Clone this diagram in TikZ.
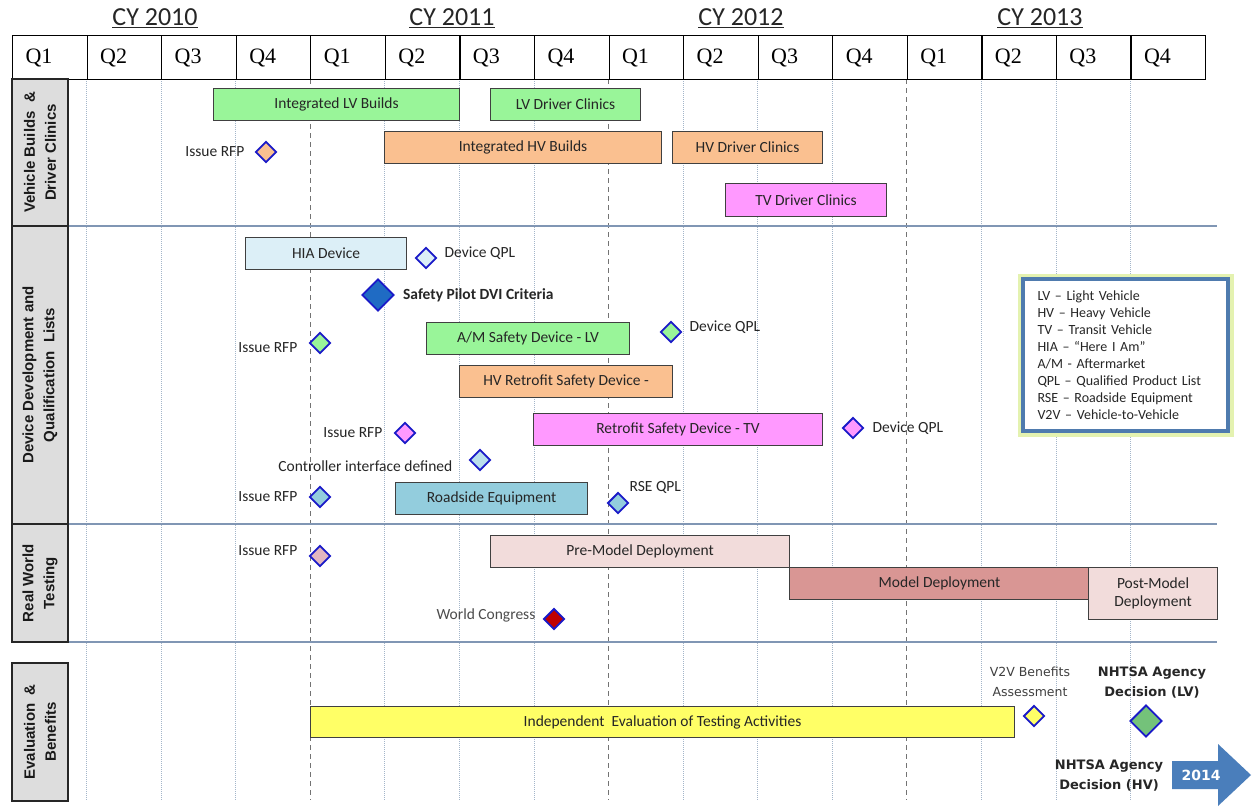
\documentclass[tikz,border=0pt]{standalone}
\usepackage{fontspec}
\setmainfont{Carlito}
\newfontfamily\qfont{Liberation Serif}
\newfontfamily\secfont{Liberation Sans}
\newfontfamily\dvfont{DejaVu Sans}
\usepackage{xcolor}
\usepackage{tikz}
\usetikzlibrary{shapes.geometric,positioning}

\definecolor{lvgreen}{HTML}{99F599}
\definecolor{hvorange}{HTML}{FAC090}
\definecolor{tvpink}{HTML}{FF99FF}
\definecolor{hialight}{HTML}{DCEFF7}
\definecolor{rseblue}{HTML}{93CDDD}
\definecolor{ctrlblue}{HTML}{B9DEEC}
\definecolor{premodel}{HTML}{F2DCDB}
\definecolor{modeldep}{HTML}{D99694}
\definecolor{evalyellow}{HTML}{FFFF66}
\definecolor{msborder}{HTML}{1A1AC8}
\definecolor{dviblue}{HTML}{1F6BC4}
\definecolor{wcred}{HTML}{C00000}
\definecolor{rfpmauve}{HTML}{E3B6C0}
\definecolor{nhtsagreen}{HTML}{74C27A}
\definecolor{gridblue}{HTML}{A3B5C9}
\definecolor{sepblue}{HTML}{8096B4}
\definecolor{secgray}{HTML}{DDDDDD}
\definecolor{legendblue}{HTML}{4F7BAE}
\definecolor{legendglow}{HTML}{E4F2B0}
\definecolor{arrowblue}{HTML}{4A7EBB}
\definecolor{bartext}{HTML}{262626}

\begin{document}
\begin{tikzpicture}[x=1pt, y=-1pt,
  every node/.style={text=bartext, font=\fontsize{15.5}{18}\selectfont},
  qcell/.style={draw=black, line width=1.2pt, anchor=north west, minimum height=44,
    text width=48.56, inner xsep=13, align=left, text=black,
    font=\qfont\fontsize{22}{24}\selectfont},
  yearlabel/.style={font=\fontsize{26}{28}\selectfont, text=black!85},
  secbox/.style={rotate=90, draw=black!85, line width=1.2pt, fill=secgray,
    minimum height=56, align=center, text=black!90,
    font=\secfont\bfseries\fontsize{15}{21}\selectfont},
  bar/.style={draw=black!75, line width=1.1pt, anchor=north west, inner sep=0pt,
    minimum height=31.5, align=center},
  ms/.style={diamond, draw=msborder, line width=1.9pt, inner sep=0pt,
    minimum width=21, minimum height=21},
  msbig/.style={ms, minimum width=32, minimum height=32},
  mslabel/.style={inner sep=0pt},
  grid/.style={gridblue, line width=0.7pt, dash pattern=on 1pt off 1pt},
  yearline/.style={black!55, line width=0.7pt, dash pattern=on 5pt off 4pt},
  sep/.style={sepblue, line width=1.2pt}]

  \useasboundingbox (0,0) rectangle (1259,809);
  \fill[white] (0,0) rectangle (1259,809);

  % Quarter grid
  \foreach \i in {1,2,3,5,6,7,9,10,11,13,14,15}
    \draw[grid] ({12+74.5625*\i},79) -- ({12+74.5625*\i},800);
  \foreach \i in {4,8,12}
    \draw[yearline] ({12+74.5625*\i},79) -- ({12+74.5625*\i},800);

  % Section separators
  \foreach \sy in {226,524,642}
    \draw[sep] (68,\sy) -- (1217,\sy);

  % Header
  \foreach \yr/\cx in {2010/155, 2011/452, 2012/741, 2013/1040}
    \node[yearlabel] (cy\yr) at (\cx,18) {\underline{CY \yr}};
  \foreach \i in {0,...,15} {
    \pgfmathtruncatemacro\q{mod(\i,4)+1}
    \node[qcell] (q\i) at ({12+74.5625*\i},35) {Q\q};
  }

  % Section labels
  \node[secbox, minimum width=147] (secveh) at (40,152.5) {Vehicle Builds \ \&\\Driver Clinics};
  \node[secbox, minimum width=298] (secdev) at (40,375) {Device Development and\\Qualification \ Lists};
  \node[secbox, minimum width=118] (secreal) at (40,583) {Real World\\Testing};
  \node[secbox, minimum width=138] (seceval) at (40,732) {Evaluation \ \&\\Benefits};

  % Vehicle builds and driver clinics
  \node[bar, fill=lvgreen, minimum width=246] (lvb) at (213,88) {Integrated LV Builds};
  \node[bar, fill=lvgreen, minimum width=150] (lvdc) at (490,88) {LV Driver Clinics};
  \node[bar, fill=hvorange, minimum width=277] (hvb) at (384,131) {Integrated HV Builds};
  \node[bar, fill=hvorange, minimum width=150] (hvdc) at (672,131) {HV Driver Clinics};
  \node[bar, fill=tvpink, minimum width=161, minimum height=33] (tvdc) at (725,183) {TV Driver Clinics};
  \node[ms, fill=hvorange] (rfpveh) at (266,152) {};
  \node[mslabel, left=10pt of rfpveh] (rfpvehlbl) {Issue RFP};

  % Device development
  \node[bar, fill=hialight, minimum width=161, minimum height=32] (hia) at (245,237) {HIA Device};
  \node[bar, fill=lvgreen, minimum width=203, minimum height=32] (amlv) at (426,322) {A/M Safety Device - LV};
  \node[bar, fill=hvorange, minimum width=213, minimum height=32] (hvrs) at (459,365) {HV Retrofit Safety Device -};
  \node[bar, fill=tvpink, minimum width=289] (tvrs) at (533,413) {Retrofit Safety Device - TV};
  \node[bar, fill=rseblue, minimum width=192, minimum height=32] (rse) at (395,482) {Roadside Equipment};

  \node[ms, fill=hialight] (qplhia) at (426,258) {};
  \node[mslabel, right=7pt of qplhia, yshift=5pt] (qplhialbl) {Device QPL};
  \node[msbig, fill=dviblue] (dvi) at (378,295) {};
  \node[mslabel, right=8pt of dvi, font=\bfseries\fontsize{15.5}{18}\selectfont] (dvilbl) {Safety Pilot DVI Criteria};
  \node[ms, fill=lvgreen] (rfplv) at (320,343) {};
  \node[mslabel, left=11pt of rfplv, yshift=-5pt] (rfplvlbl) {Issue RFP};
  \node[ms, fill=lvgreen] (qpllv) at (671,332) {};
  \node[mslabel, right=7pt of qpllv, yshift=5pt] (qpllvlbl) {Device QPL};
  \node[ms, fill=tvpink] (rfptv) at (405,433) {};
  \node[mslabel, left=11pt of rfptv] (rfptvlbl) {Issue RFP};
  \node[ms, fill=tvpink] (qpltv) at (853,428) {};
  \node[mslabel, right=8pt of qpltv] (qpltvlbl) {Device QPL};
  \node[ms, fill=ctrlblue] (ctrl) at (480,460) {};
  \node[mslabel, left=16pt of ctrl, yshift=-6pt] (ctrllbl) {Controller interface defined};
  \node[ms, fill=rseblue] (rfprse) at (320,497) {};
  \node[mslabel, left=11pt of rfprse] (rfprselbl) {Issue RFP};
  \node[ms, fill=rseblue] (qplrse) at (618,503) {};
  \node[mslabel, right=0pt of qplrse, yshift=16pt] (qplrselbl) {RSE QPL};

  % Real world testing
  \node[bar, fill=premodel, minimum width=299, minimum height=32] (premd) at (490,535) {Pre-Model Deployment};
  \node[bar, fill=modeldep, minimum width=300, minimum height=32] (md) at (789,567) {Model Deployment};
  \node[bar, fill=premodel, minimum width=129, minimum height=52] (postmd) at (1088,567) {Post-Model\\Deployment};
  \node[ms, fill=rfpmauve] (rfpmd) at (320,556) {};
  \node[mslabel, left=11pt of rfpmd, yshift=5pt] (rfpmdlbl) {Issue RFP};
  \node[ms, fill=wcred] (wc) at (554,619) {};
  \node[mslabel, left=7pt of wc, yshift=4pt, text=black!70] (wclbl) {World Congress};

  % Evaluation and benefits
  \node[bar, fill=evalyellow, minimum width=704, minimum height=31] (ieval) at (310,706) {Independent \ Evaluation of Testing Activities};
  \node[ms, fill=evalyellow] (v2v) at (1034,716) {};
  \node[mslabel, above=8pt of v2v, xshift=-4pt, align=center, text=black!75,
    font=\dvfont\fontsize{12.5}{20}\selectfont] (v2vlbl) {V2V Benefits\\Assessment};
  \node[msbig, fill=nhtsagreen] (declv) at (1146,721) {};
  \node[mslabel, above=6pt of declv, xshift=6pt, align=center,
    font=\dvfont\bfseries\fontsize{13}{20}\selectfont] (declvlbl) {NHTSA Agency\\Decision (LV)};
  \node[mslabel, align=center, font=\dvfont\bfseries\fontsize{13}{20}\selectfont] (dechv) at (1109,776) {NHTSA Agency\\Decision (HV)};

  % 2014 arrow
  \fill[arrowblue] (1172,761) -- (1218,761) -- (1218,744) -- (1251,775) -- (1218,806)
    -- (1218,789) -- (1172,789) -- cycle;
  \node[text=white, font=\dvfont\bfseries\fontsize{14}{16}\selectfont] (yr2014) at (1201,775) {2014};

  % Legend
  \node[draw=legendblue, line width=3.2pt, fill=white, preaction={draw=legendglow, line width=11pt},
    minimum width=205, minimum height=152, text width=176, inner xsep=14, align=left,
    font=\fontsize{14}{17}\selectfont] (legend) at (1125.5,355)
    {LV – Light Vehicle\\HV – Heavy Vehicle\\TV – Transit Vehicle\\HIA – “Here I Am”\\
     A/M - Aftermarket\\QPL – Qualified Product List\\RSE – Roadside Equipment\\V2V – Vehicle-to-Vehicle};
\end{tikzpicture}
\end{document}
